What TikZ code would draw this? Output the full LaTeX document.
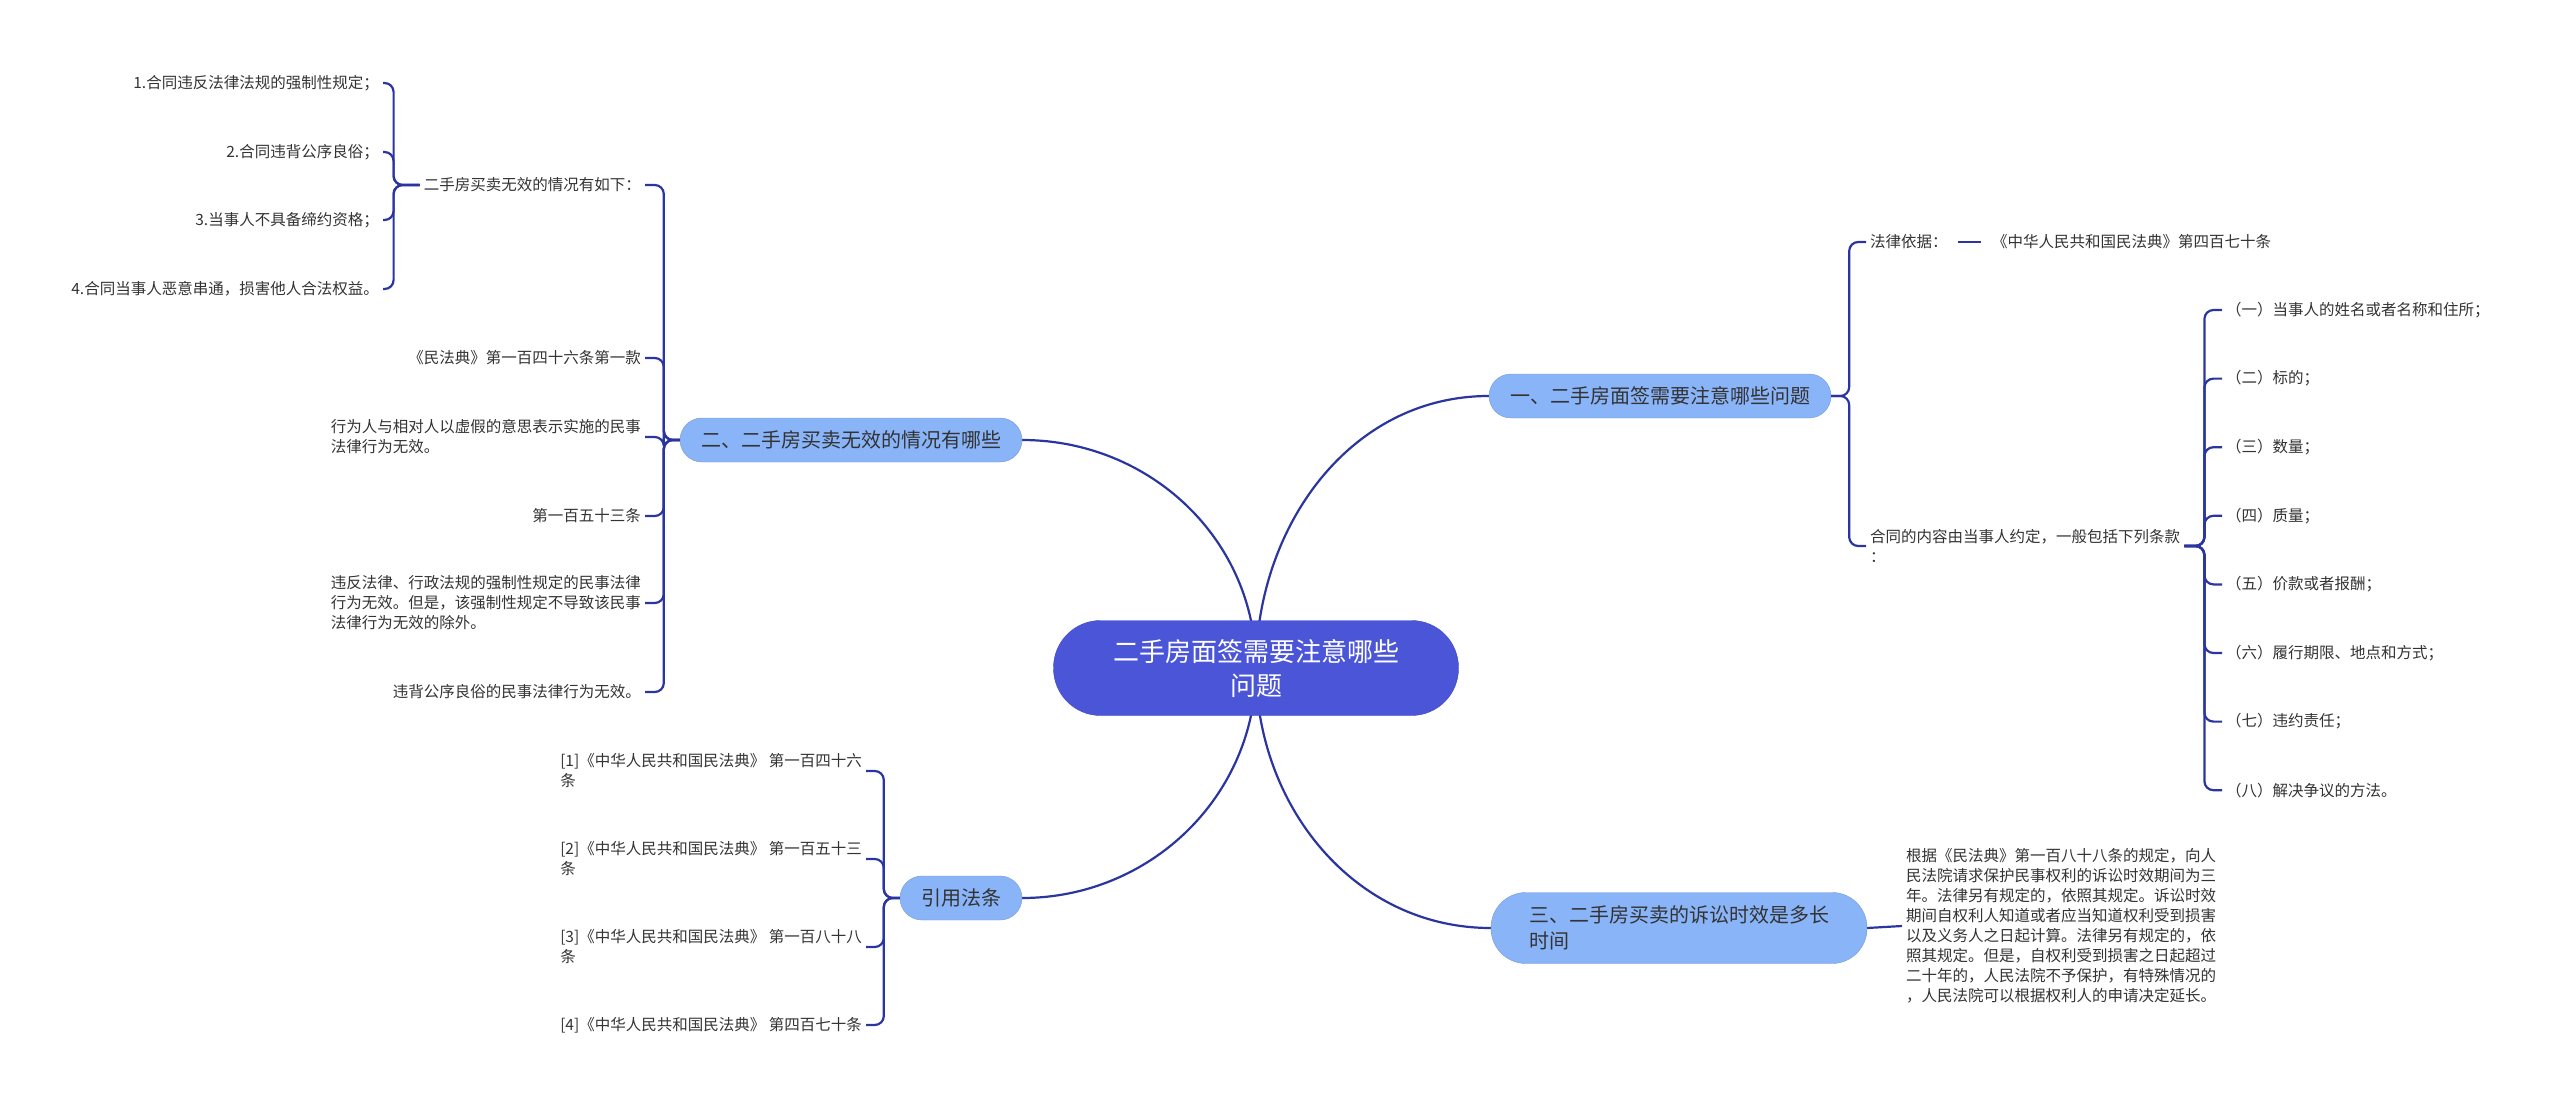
\documentclass[tikz,border=0pt]{standalone}
\usepackage{fontspec}
\setmainfont{Noto Sans CJK SC}
\usetikzlibrary{backgrounds}
\definecolor{rootblue}{HTML}{4B55D8}
\definecolor{branchblue}{HTML}{8AB4F8}
\definecolor{linkblue}{HTML}{2B35A0}
\definecolor{txt}{HTML}{333333}
\begin{document}
\begin{tikzpicture}[x=1pt,y=-1pt,
  root/.style={fill=rootblue,draw=rootblue!85!black,rounded corners=47pt,minimum width=405pt,minimum height=95pt,text=white,font=\fontsize{26}{34}\selectfont,align=center},
  branch/.style={fill=branchblue,draw=branchblue!85!black,rounded corners=22pt,minimum height=44pt,inner xsep=21pt,text=txt,font=\fontsize{20}{26}\selectfont},
  leaf/.style={text=txt,font=\fontsize{15.5}{20}\selectfont,inner sep=4pt,align=left},
  conn/.style={draw=linkblue,line width=2.2pt},
  brace/.style={conn,rounded corners=9pt}]
\useasboundingbox (0,0) rectangle (2560,1110);

\node[root] (root) at (1256,668) {二手房面签需要注意哪些\\问题};
\node[branch] (b1) at (1660,396) {一、二手房面签需要注意哪些问题};
\node[branch] (b2) at (851,440) {二、二手房买卖无效的情况有哪些};
\node[branch,align=left,rounded corners=35pt,minimum height=71pt,inner xsep=38pt] (b3) at (1679,928) {三、二手房买卖的诉讼时效是多长\\时间};
\node[branch] (b4) at (961,898) {引用法条};

\begin{scope}[on background layer]
\draw[conn] (root.center) to[out=90,in=180] (b1.west);
\draw[conn] (root.center) to[out=90,in=0] (b2.east);
\draw[conn] (root.center) to[out=-90,in=180] (b3.west);
\draw[conn] (root.center) to[out=-90,in=0] (b4.east);
\end{scope}

% 一
\node[leaf,anchor=west] (law) at (1866,242) {法律依据：};
\node[leaf,anchor=west] (lawref) at (1988,242) {《中华人民共和国民法典》第四百七十条};
\node[leaf,anchor=west] (terms) at (1866,546) {合同的内容由当事人约定，一般包括下列条款\\：};
\foreach \n in {law,terms} \draw[brace] (b1.east) -- ++(18,0) |- (\n.west);
\draw[conn,shorten <=6pt,shorten >=7pt] (law) -- (lawref);
\foreach \t [count=\i from 0] in {（一）当事人的姓名或者名称和住所；,（二）标的；,（三）数量；,（四）质量；,（五）价款或者报酬；,（六）履行期限、地点和方式；,（七）违约责任；,（八）解决争议的方法。}
  \node[leaf,anchor=west] (item\i) at (2222,{310+68.6*\i}) {\t};
\foreach \i in {0,...,7} \draw[brace] (terms.east) -- ++(20,0) |- (item\i.west);

% 二
\node[leaf,anchor=east] (sit) at (645,185) {二手房买卖无效的情况有如下：};
\node[leaf,anchor=east] (s1) at (383,83) {1.合同违反法律法规的强制性规定；};
\node[leaf,anchor=east] (s2) at (383,152) {2.合同违背公序良俗；};
\node[leaf,anchor=east] (s3) at (383,220) {3.当事人不具备缔约资格；};
\node[leaf,anchor=east] (s4) at (383,289) {4.合同当事人恶意串通，损害他人合法权益。};
\foreach \n in {s1,s2,s3,s4} \draw[brace] (sit.west) -- ++(-26,0) |- (\n.east);
\node[leaf,anchor=east] (a146) at (645,358) {《民法典》第一百四十六条第一款};
\node[leaf,anchor=east] (fake) at (645,437) {行为人与相对人以虚假的意思表示实施的民事\\法律行为无效。};
\node[leaf,anchor=east] (a153) at (645,516) {第一百五十三条};
\node[leaf,anchor=east] (illegal) at (645,603) {违反法律、行政法规的强制性规定的民事法律\\行为无效。但是，该强制性规定不导致该民事\\法律行为无效的除外。};
\node[leaf,anchor=east] (custom) at (645,692) {违背公序良俗的民事法律行为无效。};
\foreach \n in {sit,a146,fake,a153,illegal,custom} \draw[brace] (b2.west) -- ++(-16,0) |- (\n.east);

% 三
\node[leaf,anchor=west] (note) at (1902,926) {根据《民法典》第一百八十八条的规定，向人\\民法院请求保护民事权利的诉讼时效期间为三\\年。法律另有规定的，依照其规定。诉讼时效\\期间自权利人知道或者应当知道权利受到损害\\以及义务人之日起计算。法律另有规定的，依\\照其规定。但是，自权利受到损害之日起超过\\二十年的，人民法院不予保护，有特殊情况的\\，人民法院可以根据权利人的申请决定延长。};
\draw[conn] (b3.east) -- (note.west);

% 引用法条
\node[leaf,anchor=east] (r1) at (866,771) {[1]《中华人民共和国民法典》 第一百四十六\\条};
\node[leaf,anchor=east] (r2) at (866,859) {[2]《中华人民共和国民法典》 第一百五十三\\条};
\node[leaf,anchor=east] (r3) at (866,947) {[3]《中华人民共和国民法典》 第一百八十八\\条};
\node[leaf,anchor=east] (r4) at (866,1025) {[4]《中华人民共和国民法典》 第四百七十条};
\foreach \n in {r1,r2,r3,r4} \draw[brace] (b4.west) -- ++(-16,0) |- (\n.east);
\end{tikzpicture}
\end{document}
